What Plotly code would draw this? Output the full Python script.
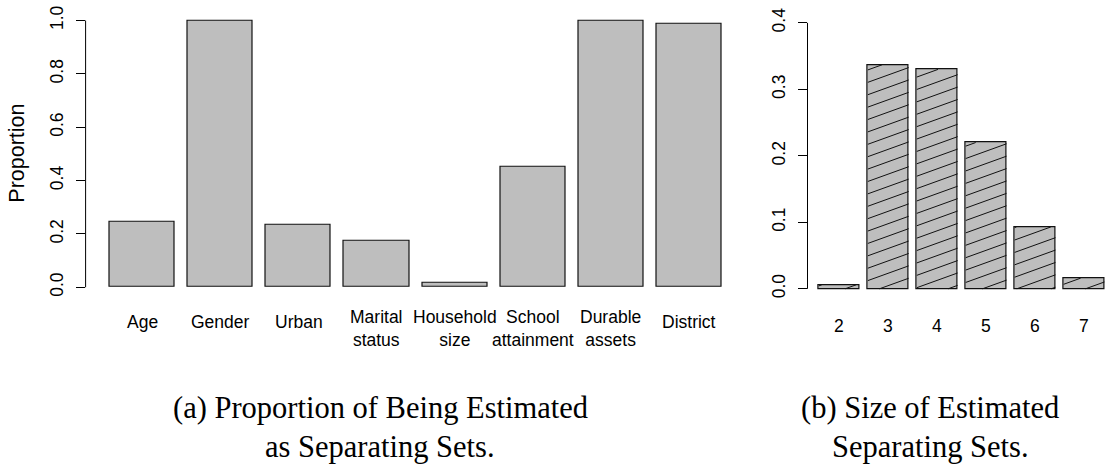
import math
import plotly.graph_objects as go

# ---- data -------------------------------------------------------------
covariates = ["Age", "Gender", "Urban", "Marital<br>status", "Household<br>size",
              "School<br>attainment", "Durable<br>assets", "District"]
proportion = [0.244, 1.0, 0.233, 0.174, 0.016, 0.452, 1.0, 0.989]

set_sizes = ["2", "3", "4", "5", "6", "7"]
size_share = [0.006, 0.337, 0.330, 0.220, 0.093, 0.016]

left_yticks = [0.0, 0.2, 0.4, 0.6, 0.8, 1.0]
right_yticks = [0.0, 0.1, 0.2, 0.3, 0.4]

caption_a = ["(a) Proportion of Being Estimated", "as Separating Sets."]
caption_b = ["(b) Size of Estimated", "Separating Sets."]

# ---- page geometry -------------------------------------------------------
W, H = 1105, 465
BAR_FILL = "#bebebe"
SANS = "Liberation Sans, Arial, sans-serif"
SERIF = "Liberation Serif, Times New Roman, serif"


def px_x(p):
    return p / W


def px_y(p):
    return (H - p) / H


# barplot-style positions: width 1, gap 0.2
def centers(n):
    return [0.7 + 1.2 * i for i in range(n)]


xa_left = centers(len(covariates))
xa_right = centers(len(set_sizes))

left_xrange = [-0.176, 9.976]
left_xdom = [px_x(85.6), px_x(745.6)]
left_yrange = [-0.04, 1.04]
left_ydom = [px_y(296.5), px_y(5.9)]

right_xrange = [-0.08, 7.215]
right_xdom = [px_x(807.5), 1.0]
right_yrange = [-0.016, 0.416]
right_ydom = [px_y(298.0), px_y(8.3)]

fig = go.Figure()

fig.add_trace(go.Bar(
    x=xa_left, y=proportion, width=1.0, xaxis="x", yaxis="y",
    marker=dict(color=BAR_FILL, line=dict(color="#111111", width=1.2)),
    hoverinfo="y", showlegend=False))

fig.add_trace(go.Bar(
    x=xa_right, y=size_share, width=1.0, xaxis="x2", yaxis="y2",
    marker=dict(color=BAR_FILL, line=dict(color="#111111", width=1.2)),
    hoverinfo="y", showlegend=False))


# ---- diagonal hatching for the second panel -----------------------------
def hatch_segments(xs, hs, xrange, xdom, yrange, ydom, angle_deg, gap_px):
    ppx = (xdom[1] - xdom[0]) * W / (xrange[1] - xrange[0])
    ppy = (ydom[1] - ydom[0]) * H / (yrange[1] - yrange[0])
    m = math.tan(math.radians(angle_deg)) * ppx / ppy   # y units per x unit
    s = gap_px / ppy                                     # vertical gap in y units
    lx, ly = [], []
    for xc, h in zip(xs, hs):
        xa, xb = xc - 0.5, xc + 0.5
        k0 = math.floor((0 - m * xb) / s) - 1
        k1 = math.ceil((h - m * xa) / s) + 1
        for k in range(k0, k1 + 1):
            c = k * s
            lo = max(xa, (0 - c) / m)
            hi = min(xb, (h - c) / m)
            if hi > lo:
                lx += [lo, hi, None]
                ly += [c + m * lo, c + m * hi, None]
    return lx, ly


hx, hy = hatch_segments(xa_right, size_share, right_xrange, right_xdom,
                        right_yrange, right_ydom, 20.0, 12.5)
fig.add_trace(go.Scatter(x=hx, y=hy, xaxis="x2", yaxis="y2", mode="lines",
                         line=dict(color="#111111", width=1.0),
                         hoverinfo="skip", showlegend=False))

# ---- axes -------------------------------------------------------------------
common_x = dict(showgrid=False, zeroline=False, showline=False, ticks="",
                showticklabels=False, fixedrange=True)
common_y = dict(showgrid=False, zeroline=False, showline=False, ticks="outside",
                ticklen=9, tickwidth=1, tickcolor="black", tickangle=-90,
                tickformat=".1f", tickfont=dict(family=SANS, size=17.5, color="black"),
                ticklabelstandoff=6, fixedrange=True)

fig.update_layout(
    width=W, height=H,
    margin=dict(l=0, r=0, t=0, b=0),
    paper_bgcolor="white", plot_bgcolor="white",
    bargap=0,
    xaxis=dict(domain=left_xdom, range=left_xrange, anchor="y", **common_x),
    yaxis=dict(domain=left_ydom, range=left_yrange, anchor="x",
               tickvals=left_yticks, **common_y),
    xaxis2=dict(domain=right_xdom, range=right_xrange, anchor="y2", **common_x),
    yaxis2=dict(domain=right_ydom, range=right_yrange, anchor="x2",
                tickvals=right_yticks, **common_y),
)

# axis lines span only the tick range
fig.add_shape(type="line", xref="x domain", yref="y", x0=0, x1=0,
              y0=left_yticks[0], y1=left_yticks[-1], line=dict(color="black", width=1))
fig.add_shape(type="line", xref="x2 domain", yref="y2", x0=0, x1=0,
              y0=right_yticks[0], y1=right_yticks[-1], line=dict(color="black", width=1))

# ---- category labels --------------------------------------------------------
for xc, lab in zip(xa_left, covariates):
    two = "<br>" in lab
    fig.add_annotation(x=xc, xref="x", y=px_y(327.5 if two else 320.5), yref="paper",
                       text=lab, showarrow=False, xanchor="center", yanchor="middle",
                       font=dict(family=SANS, size=17.5, color="black"))

for xc, lab in zip(xa_right, set_sizes):
    fig.add_annotation(x=xc, xref="x2", y=px_y(325), yref="paper",
                       text=lab, showarrow=False, xanchor="center", yanchor="middle",
                       font=dict(family=SANS, size=17.5, color="black"))

fig.add_annotation(x=px_x(17), xref="paper", y=px_y(151), yref="paper",
                   text="Proportion", textangle=-90, showarrow=False,
                   xanchor="center", yanchor="middle",
                   font=dict(family=SANS, size=21.5, color="black"))

# ---- sub-captions ----------------------------------------------------------
for lines, cx in ((caption_a, 380), (caption_b, 930)):
    for i, line in enumerate(lines):
        fig.add_annotation(x=px_x(cx), xref="paper", y=px_y(408 + 39 * i), yref="paper",
                           text=line, showarrow=False, xanchor="center", yanchor="middle",
                           font=dict(family=SERIF, size=30.5, color="black"))

fig.write_html("out.html")
